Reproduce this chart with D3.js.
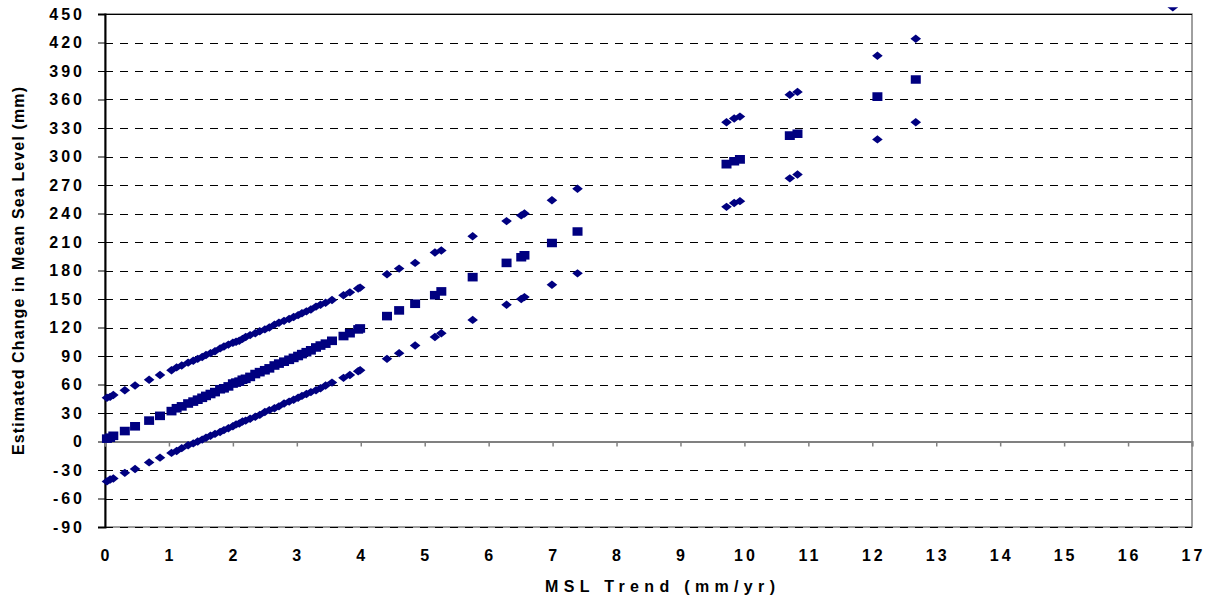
<!DOCTYPE html>
<html>
<head>
<meta charset="utf-8">
<script src="https://cdn.jsdelivr.net/npm/d3@7"></script>
<style>
  html, body { margin: 0; padding: 0; background: #fff; }
  svg { display: block; }
  text { font-family: Arial, "Liberation Sans", sans-serif; font-weight: bold; fill: #000; }
</style>
</head>
<body>
<svg id="chart" width="1207" height="601"></svg>
<script>
// ---------- DATA ----------
const trend = [0.03, 0.08, 0.13, 0.31, 0.47, 0.69, 0.86, 1.04, 1.12, 1.20, 1.30, 1.38, 1.45, 1.52, 1.58, 1.65,
  1.72, 1.80, 1.86, 1.93, 2.00, 2.05, 2.10, 2.15, 2.20, 2.27, 2.35, 2.42, 2.50, 2.57, 2.65, 2.72, 2.80, 2.88,
  2.95, 3.02, 3.08, 3.15, 3.22, 3.30, 3.37, 3.45, 3.55, 3.73, 3.83, 3.96, 3.99,
  4.41, 4.60, 4.85, 5.16, 5.26, 5.75, 6.28, 6.51, 6.56, 6.99, 7.39, 9.72, 9.84, 9.93, 10.71, 10.83, 12.08, 12.68, 16.70];

const upperBound = [46, 47, 49, 54, 59, 65, 70, 75, 78, 80, 83, 85, 87, 89, 91, 93,
  95, 98, 100, 102, 104, 105, 106, 108, 110, 112, 114, 116, 118, 120, 123, 125, 127, 129,
  131, 133, 135, 137, 139, 142, 144, 146, 149, 154, 157, 161, 162,
  176, 182, 188, 199, 201, 216, 232, 238, 240, 254, 266, 336, 340, 342, 365, 368, 406, 424, 545];

const estimate = [3, 4, 6, 11, 16, 22, 27, 32, 35, 37, 40, 42, 44, 46, 48, 50,
  52, 55, 56, 58, 61, 62, 63, 65, 66, 68, 71, 73, 75, 77, 80, 82, 84, 86,
  88, 90, 92, 94, 96, 99, 101, 103, 106, 111, 114, 118, 119,
  132, 138, 145, 154, 158, 173, 188, 194, 196, 209, 221, 292, 295, 297, 322, 324, 363, 381, 501];

const lowerBound = [-42, -40, -39, -33, -29, -22, -17, -12, -10, -7, -4, -2, 0, 2, 4, 6,
  8, 10, 12, 14, 16, 18, 19, 21, 22, 24, 26, 28, 31, 33, 35, 37, 40, 42,
  44, 46, 48, 50, 52, 54, 56, 59, 62, 67, 70, 74, 75,
  87, 93, 101, 110, 114, 128, 144, 150, 152, 165, 177, 247, 251, 253, 277, 281, 318, 336, 457];

const xTicks = [0,1,2,3,4,5,6,7,8,9,10,11,12,13,14,15,16,17];
const yTicks = [-90,-60,-30,0,30,60,90,120,150,180,210,240,270,300,330,360,390,420,450];

const xTitle = "MSL Trend (mm/yr)";
const yTitle = "Estimated Change in Mean Sea Level (mm)";

// ---------- LAYOUT ----------
const svg = d3.select("#chart");
const plot = { left: 105, right: 1192, top: 14, bottom: 527 };
const x = d3.scaleLinear().domain([0, 17]).range([plot.left, plot.right]);
const y = d3.scaleLinear().domain([-90, 450]).range([plot.bottom, plot.top]);
const navy = "#000080";

// plot border (grey)
svg.append("rect")
  .attr("x", plot.left).attr("y", plot.top)
  .attr("width", plot.right - plot.left).attr("height", plot.bottom - plot.top)
  .attr("fill", "none").attr("stroke", "#808080").attr("stroke-width", 1.5);

// dashed gridlines
svg.append("g").selectAll("line")
  .data(yTicks.filter(d => d !== 0))
  .join("line")
  .attr("x1", plot.left).attr("x2", plot.right)
  .attr("y1", d => Math.round(y(d)) + 0.5).attr("y2", d => Math.round(y(d)) + 0.5)
  .attr("stroke", "#000")
  .attr("stroke-width", 1)
  .attr("stroke-dasharray", d => (d === 450) ? null : "8,7");

// y axis (left)
const yAxis = d3.axisLeft(y).tickValues(yTicks).tickSize(7).tickFormat("");
const gy = svg.append("g").attr("transform", `translate(${plot.left},0)`).call(yAxis);
gy.select(".domain").attr("stroke", "#000").attr("stroke-width", 2);
gy.selectAll(".tick line").attr("stroke", "#000").attr("stroke-width", 1);

// y tick labels (letter-spaced)
svg.append("g").selectAll("text")
  .data(yTicks)
  .join("text")
  .attr("x", 85)
  .attr("y", d => y(d))
  .attr("dy", "0.36em")
  .attr("text-anchor", "end")
  .attr("font-size", 16)
  .attr("letter-spacing", 3)
  .text(d => d);

// x axis at zero
const xAxis = d3.axisBottom(x).tickValues(xTicks).tickSize(5).tickFormat("");
const gx = svg.append("g").attr("transform", `translate(0,${y(0)})`).call(xAxis);
gx.select(".domain").attr("stroke", "#808080").attr("stroke-width", 2);
gx.selectAll(".tick line").attr("stroke", "#808080").attr("stroke-width", 1.5);

// x tick labels (at bottom)
svg.append("g").selectAll("text")
  .data(xTicks)
  .join("text")
  .attr("x", d => x(d) + 1.5)
  .attr("y", 561)
  .attr("text-anchor", "middle")
  .attr("font-size", 16)
  .attr("letter-spacing", 3)
  .text(d => d);

// axis titles
svg.append("text")
  .attr("x", 660).attr("y", 592)
  .attr("text-anchor", "middle")
  .attr("font-size", 16)
  .attr("textLength", 230).attr("lengthAdjust", "spacing")
  .text(xTitle);

svg.append("text")
  .attr("transform", "translate(24,271) rotate(-90)")
  .attr("text-anchor", "middle")
  .attr("font-size", 16)
  .attr("textLength", 368).attr("lengthAdjust", "spacing")
  .text(yTitle);

// clip for markers
svg.append("clipPath").attr("id", "clip")
  .append("rect").attr("x", plot.left - 10).attr("y", 7.3)
  .attr("width", plot.right - plot.left + 20).attr("height", plot.bottom - 7.3 + 10);

const markers = svg.append("g").attr("clip-path", "url(#clip)");
const diamond = "M0,-4.2L5.3,0L0,4.2L-5.3,0Z";
const square = "M-5,-4.3H5V4.3H-5Z";

function drawSeries(vals, path) {
  markers.append("g").selectAll("path")
    .data(trend.map((t, i) => [t, vals[i]]))
    .join("path")
    .attr("d", path)
    .attr("transform", d => `translate(${x(d[0])},${y(d[1])})`)
    .attr("fill", navy);
}
drawSeries(upperBound, diamond);
drawSeries(lowerBound, diamond);
drawSeries(estimate, square);
</script>
</body>
</html>
